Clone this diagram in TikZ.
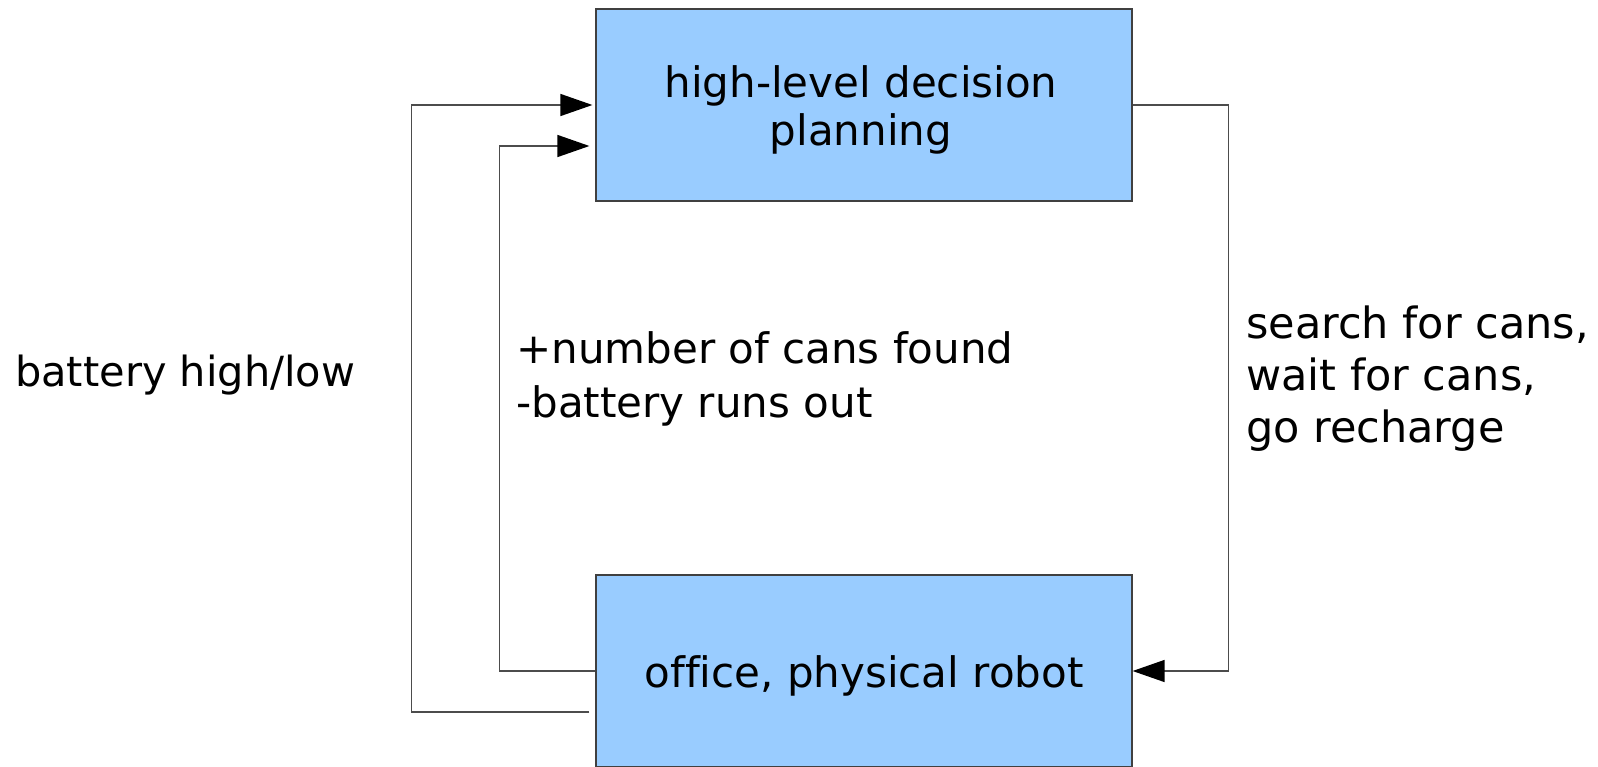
\documentclass[tikz,border=0pt]{standalone}
\usepackage{fontspec}
\setmainfont[Ligatures=NoCommon]{DejaVu Sans}
\usetikzlibrary{arrows.meta}
\definecolor{boxblue}{HTML}{99CCFF}
\begin{document}
\begin{tikzpicture}[x=1pt,y=-1pt,
  block/.style={draw=black!75, line width=1.2pt, fill=boxblue,
    minimum width=536pt, minimum height=192pt, inner sep=0pt},
  conn/.style={draw=black!70, line width=1.3pt},
  tip/.style={-{Triangle[length=32pt,width=22pt,color=black]}},
  txt/.style={inner sep=0pt, font=\fontsize{42}{48}\selectfont},
]
\useasboundingbox (0,0) rectangle (1598,766);
\clip (0,0) rectangle (1598,766);
\fill[white] (0,0) rectangle (1598,766);

% the two blocks
\node[block] (plan) at (864,105) {};
\node[block] (robot) at (864,671) {};

% block texts (base anchor sits on the last line)
\node[txt, align=center, anchor=base] (plantext) at (861,145) {high-level decision\\planning};
\node[txt, anchor=base] (robottext) at (864,687) {office, physical robot};

% side labels
\node[txt, font=\fontsize{41.5}{48}\selectfont, anchor=base west] (battery) at (15,386) {battery high/low};
\node[txt, font=\fontsize{42}{54}\selectfont, align=left, anchor=base west] (cans) at (516,417)
  {+number of cans found\\-battery runs out};
\node[txt, font=\fontsize{43}{52}\selectfont, align=left, anchor=base west] (actions) at (1246,442)
  {search for cans,\\wait for cans,\\go recharge};

% connectors
\draw[conn, tip] ([shift={(-6,41)}]robot.west) -| ([xshift=-184pt]plan.west) -- ([xshift=-3pt]plan.west);
\draw[conn, tip] (robot.west) -| ([shift={(-96,41)}]plan.west) -- ([shift={(-6,41)}]plan.west);
\draw[conn, tip] (plan.east) -- ([xshift=96pt]plan.east) |- (robot.east);
\end{tikzpicture}
\end{document}
